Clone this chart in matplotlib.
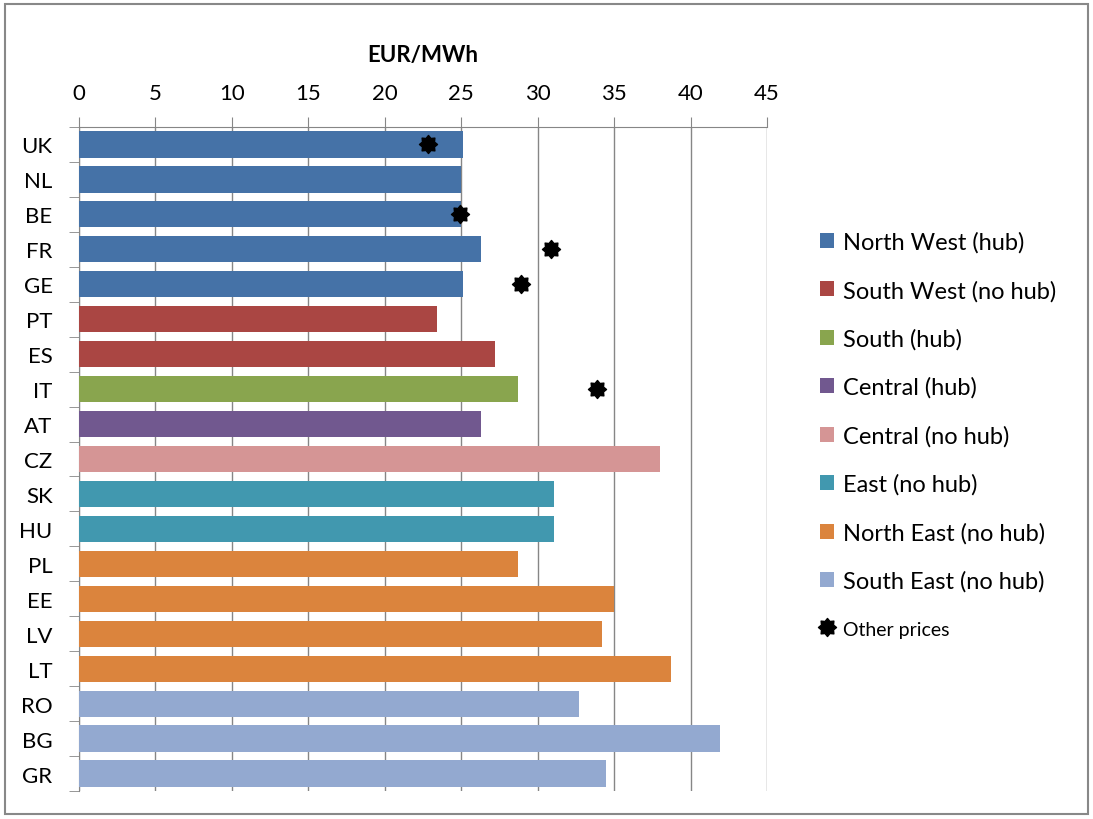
import matplotlib.pyplot as plt
import numpy as np
from matplotlib.patches import Patch, Rectangle
from matplotlib.lines import Line2D
from matplotlib.path import Path

plt.rcParams['font.family'] = ['Lato', 'DejaVu Sans']

countries = ['UK', 'NL', 'BE', 'FR', 'GE', 'PT', 'ES', 'IT', 'AT', 'CZ',
             'SK', 'HU', 'PL', 'EE', 'LV', 'LT', 'RO', 'BG', 'GR']
prices = [25.1, 25.0, 25.0, 26.3, 25.1, 23.4, 27.2, 28.7, 26.3, 38.0,
          31.1, 31.1, 28.7, 35.0, 34.2, 38.7, 32.7, 41.9, 34.5]
region_of = [0, 0, 0, 0, 0, 1, 1, 2, 3, 4, 5, 5, 6, 6, 6, 6, 7, 7, 7]

regions = ['North West (hub)', 'South West (no hub)', 'South (hub)', 'Central (hub)',
           'Central (no hub)', 'East (no hub)', 'North East (no hub)', 'South East (no hub)']
region_colors = ['#4572A7', '#AA4643', '#89A54E', '#71588F',
                 '#D59595', '#4198AF', '#DB843D', '#93A9D0']

# other prices, only for some countries
other_countries = ['UK', 'BE', 'FR', 'GE', 'IT']
other_prices = [22.8, 24.9, 30.9, 28.9, 33.9]

fig = plt.figure(figsize=(10.93, 8.2), dpi=100)
ax = fig.add_axes([79 / 1093, 1 - 792 / 820, (767 - 79) / 1093, (792 - 128) / 820])

y = np.arange(len(countries))
colors = [region_colors[r] for r in region_of]
ax.barh(y, prices, height=0.75, color=colors, zorder=3)

star = Path.unit_regular_star(8, 0.72)
oy = [countries.index(c) for c in other_countries]
ax.plot(other_prices, oy, linestyle='none', marker=star, markersize=13,
        color='black', zorder=4)

ax.set_xlim(0, 45)
ax.set_ylim(len(countries) - 0.5, -0.5)
ax.xaxis.tick_top()
ax.xaxis.set_label_position('top')
ax.set_xticks(np.arange(0, 46, 5))
ax.set_xlabel('EUR/MWh', fontsize=16, fontweight='bold', labelpad=16)
ax.tick_params(axis='x', length=7, color='#868686', labelsize=16, pad=10)

ax.set_yticks(y)
ax.set_yticklabels(countries)
ax.set_yticks(np.arange(-0.5, len(countries)), minor=True)
ax.tick_params(axis='y', which='major', length=0, labelsize=16, pad=19)
ax.tick_params(axis='y', which='minor', length=7, color='#868686')

ax.grid(axis='x', color='#868686', linewidth=1, zorder=0)
for s in ['right', 'bottom']:
    ax.spines[s].set_visible(False)
for s in ['top', 'left']:
    ax.spines[s].set_color('#868686')

handles = [Patch(facecolor=c, edgecolor='none') for c in region_colors]
handles.append(Line2D([], [], linestyle='none', marker=star, markersize=13, color='black'))
labels = regions + ['Other prices']
leg = fig.legend(handles, labels, loc='upper left', bbox_to_anchor=(799 / 1093, 1 - 211 / 820),
                 frameon=False, fontsize=17, handlelength=0.6, handleheight=0.6,
                 handletextpad=0.35, labelspacing=1.14)
leg.get_texts()[-1].set_fontsize(14)

# outer frame
fig.patches.append(Rectangle((5 / 1093, 5 / 820), 1083 / 1093, 810 / 820,
                             transform=fig.transFigure, fill=False,
                             edgecolor='#888888', linewidth=1.5))

fig.savefig('out.png', dpi=100)
